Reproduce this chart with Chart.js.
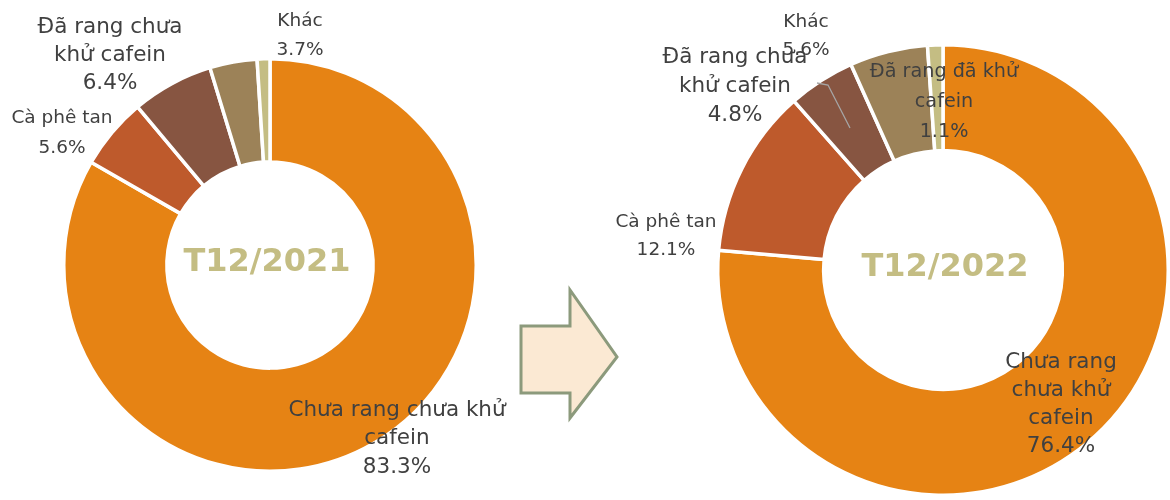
<!DOCTYPE html>
<html><head><meta charset="utf-8">
<script src="https://cdn.jsdelivr.net/npm/chart.js@4.4.1/dist/chart.umd.min.js"></script>
<style>
html,body{margin:0;padding:0;background:#fff;width:1170px;height:500px;overflow:hidden;position:relative}
#c1{position:absolute;left:0;top:0}
#c2{position:absolute;left:540px;top:0}
#arrow{position:absolute;left:0;top:0}
</style></head><body>
<svg id="arrow" width="1170" height="500"><polygon points="521,326 570,326 570,290 617,357 570,418 570,393 521,393" fill="#FBE9D3" stroke="#8C9A7C" stroke-width="3" stroke-linejoin="miter"/></svg>
<canvas id="c1" width="540" height="500"></canvas>
<canvas id="c2" width="640" height="500"></canvas>
<script>
const categories = ['Chưa rang chưa khử cafein', 'Cà phê tan', 'Đã rang chưa khử cafein', 'Khác', 'Đã rang đã khử cafein'];
const values2021 = [83.3, 5.6, 6.4, 3.7, 1.0];
const values2022 = [76.4, 12.1, 4.8, 5.6, 1.1];
const periods = ['T12/2021', 'T12/2022'];
const colors = ['#E68314', '#BE5A2C', '#875541', '#9C8258', '#C4BD83'];

const FONT = '"DejaVu Sans", Verdana, sans-serif';

function wrap(ctx, text, maxW) {
  const words = text.split(' ');
  const lines = [];
  let cur = '';
  for (const w of words) {
    const t = cur ? cur + ' ' + w : w;
    if (cur && ctx.measureText(t).width > maxW) { lines.push(cur); cur = w; }
    else cur = t;
  }
  if (cur) lines.push(cur);
  return lines;
}

const labelPlugin = {
  id: 'sliceLabels',
  afterDraw(chart, args, opts) {
    const ctx = chart.ctx;
    const ds = chart.data.datasets[0];
    ctx.save();
    if (opts.leader) {
      ctx.strokeStyle = '#A6A6A6';
      ctx.lineWidth = 1.3;
      ctx.beginPath();
      opts.leader.forEach((p, i) => i ? ctx.lineTo(p[0], p[1]) : ctx.moveTo(p[0], p[1]));
      ctx.stroke();
    }
    ctx.textAlign = 'center';
    ctx.textBaseline = 'middle';
    ctx.fillStyle = '#404040';
    for (const it of opts.items) {
      ctx.font = it.size + 'px ' + FONT;
      const lines = wrap(ctx, chart.data.labels[it.index], it.maxWidth || 1000);
      lines.push(ds.data[it.index].toFixed(1) + '%');
      lines.forEach((l, k) => ctx.fillText(l, it.x, it.y + k * it.lineH));
    }
    const meta = chart.getDatasetMeta(0).data[0];
    ctx.font = 'bold ' + opts.titleSize + 'px ' + FONT;
    ctx.fillStyle = '#C4BD83';
    ctx.fillText(opts.title, meta.x + (opts.titleDx || 0), meta.y + (opts.titleDy || 0));
    ctx.restore();
  }
};

function makeChart(id, values, title, pad, cutout, items, extra) {
  return new Chart(document.getElementById(id), {
    type: 'doughnut',
    data: {
      labels: categories,
      datasets: [{ data: values, backgroundColor: colors, borderColor: '#FFFFFF', borderWidth: 3.5 }]
    },
    options: {
      responsive: false,
      devicePixelRatio: 1,
      animation: false,
      cutout: cutout,
      layout: { padding: pad },
      plugins: {
        legend: { display: false },
        tooltip: { enabled: false },
        sliceLabels: Object.assign({ items: items, title: title, titleSize: 32 }, extra)
      }
    },
    plugins: [labelPlugin]
  });
}

makeChart('c1', values2021, periods[0],
  { left: 62, top: 57, right: 62, bottom: 27 }, '50%',
  [
    { index: 2, x: 110, y: 27, size: 21.5, lineH: 28, maxWidth: 155 },
    { index: 1, x: 62, y: 118, size: 18.5, lineH: 30, maxWidth: 130 },
    { index: 3, x: 300, y: 21, size: 18.5, lineH: 29 },
    { index: 0, x: 397, y: 410, size: 21.5, lineH: 28.5, maxWidth: 240 }
  ], { titleDx: -3, titleDy: -2 });

makeChart('c2', values2022, periods[1],
  { left: 176, top: 43, right: 10, bottom: 3 }, '53%',
  [
    { index: 3, x: 266, y: 22, size: 18.5, lineH: 28 },
    { index: 2, x: 195, y: 57, size: 21.5, lineH: 29, maxWidth: 155 },
    { index: 4, x: 404, y: 72, size: 19.2, lineH: 30, maxWidth: 160 },
    { index: 1, x: 126, y: 222, size: 18.5, lineH: 28, maxWidth: 130 },
    { index: 0, x: 521, y: 362, size: 21.5, lineH: 28.3, maxWidth: 120 }
  ], { titleDx: 2, titleDy: -2, leader: [[277, 83], [288, 85], [310, 128]] });
</script>
</body></html>
